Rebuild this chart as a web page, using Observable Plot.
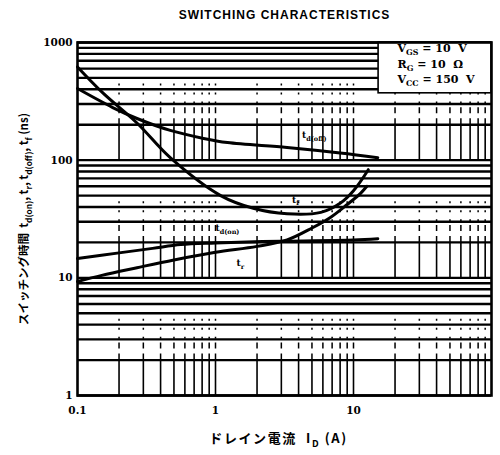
<!DOCTYPE html>
<html><head><meta charset="utf-8">
<script src="https://cdn.jsdelivr.net/npm/d3@7"></script>
<script src="https://cdn.jsdelivr.net/npm/@observablehq/plot@0.6"></script>
<style>
body{margin:0;background:#fff}
svg text{white-space:pre}
</style>
</head><body><div id="chart"></div>
<script>
// ---- data (x: drain current A, y: time ns) ----
const tdOff = [[0.1,406],[0.18,280],[0.27,226],[0.47,179],[0.82,153],[1.22,141],[3.3,128],[8,115],[15,105]];
const tf    = [[0.1,620],[0.154,369],[0.272,205],[0.47,105],[1.09,50],[1.88,39],[3.3,35],[5.8,36],[8,43],[10,55],[12.8,83]];
const tdOn  = [[0.1,14.6],[0.2,16.3],[0.35,17.8],[0.56,19.2],[1,19.8],[3,20.5],[10,21],[15,21.5]];
const tr    = [[0.1,9.3],[0.15,10.5],[0.27,12.2],[0.5,14.2],[1,16.5],[2,18.5],[3.3,21],[5,26.5],[6.8,32.6],[9,42],[11.2,52],[12.5,60]];

const seriesNames  = ["tdOff","tf","tdOn","tr"];
const seriesLabels = ["t_{d(off)}","t_{f}","t_{d(on)}","t_{r}"];

const xTickValues = [0.1, 1, 10];
const xTickLabels = ["0.1", "1", "10"];
const yTickValues = [1, 10, 100, 1000];
const yTickLabels = ["1", "10", "100", "1000"];

const xGridValues = [0.2,0.3,0.4,0.5,0.6,0.7,0.8,0.9,1,2,3,4,5,6,7,8,9,10,20,30,40,50,60,70,80,90];
const yGridValues = [1,2,3,4,5,6,7,8,9,10,20,30,40,50,60,70,80,90,100,200,300,400,500,600,700,800,900,1000];
const vSolidBands = [[1,2],[10,20],[100,200]];
const vDashBands  = [[2,3],[20,30],[200,300]];
const vDotBands   = [[3,5],[30,50],[300,500]];

const legendLines = ["V_{GS} = 10  V", "R_{G} = 10  Ω", "V_{CC} = 150  V"];
const titleText = "SWITCHING CHARACTERISTICS";
const xLabel = "ドレイン電流  I_{D} (A)";
const yLabel = "スイッチング時間  t_{d(on)}, t_{r}, t_{d(off)}, t_{f} (ns)";

// ---- tables built from the arrays ----
const seriesData = {tdOff, tf, tdOn, tr};
const rows = seriesNames.flatMap(s => seriesData[s].map(([x, y]) => ({series: s, x, y})));
const bandRows = bands => xGridValues.flatMap(x => bands.map(([a, b]) => ({x, a, b})));
const pt = (s, x) => { const p = seriesData[s].find(d => d[0] === x); return [{x: p[0], y: p[1]}]; };

const serif = "'DejaVu Serif', serif";
const cjk = "'Noto Sans CJK JP', sans-serif";
const legendText = (i, dy) => Plot.text([legendLines[i]], {frameAnchor: "top-right", dx: -94, dy, textAnchor: "start", lineAnchor: "middle", fontSize: 11, fontWeight: "bold"});

const chart = Plot.plot({
  width: 500, height: 455,
  marginLeft: 77, marginRight: 9, marginTop: 42, marginBottom: 60,
  x: {type: "log", domain: [0.1, 100], axis: null},
  y: {type: "log", domain: [1, 1000], axis: null},
  style: {background: "white", color: "black", fontFamily: serif},
  marks: [
    Plot.ruleY(yGridValues, {y: d => d, stroke: "black", strokeWidth: 2.4}),
    Plot.ruleX(bandRows(vSolidBands), {x: "x", y1: "a", y2: "b", stroke: "black", strokeWidth: 1.6}),
    Plot.ruleX(bandRows(vDashBands), {x: "x", y1: "a", y2: "b", stroke: "black", strokeWidth: 1.5, strokeDasharray: "6,5"}),
    Plot.ruleX(bandRows(vDotBands), {x: "x", y1: "a", y2: "b", stroke: "black", strokeWidth: 1.5, strokeDasharray: "2,7"}),
    // legend box
    Plot.rect([0], {x1: 15.2, x2: 100, y1: 370, y2: 1000, fill: "white", stroke: "black", strokeWidth: 1.6}),
    legendText(0, 6),
    legendText(1, 21.5),
    legendText(2, 37),
    Plot.frame({stroke: "black", strokeWidth: 2.6}),
    // curves
    Plot.line(rows, {x: "x", y: "y", z: "series", stroke: "black", strokeWidth: 3, curve: "catmull-rom"}),
    // curve labels
    Plot.text(pt("tdOff", 3.3), {x: "x", y: "y", text: [seriesLabels[0]], dx: 15, dy: -12, textAnchor: "start", fontSize: 9, fontWeight: "bold"}),
    Plot.text(pt("tf", 3.3), {x: "x", y: "y", text: [seriesLabels[1]], dx: 5, dy: -14, textAnchor: "start", fontSize: 9, fontWeight: "bold"}),
    Plot.text(pt("tdOn", 1), {x: "x", y: "y", text: [seriesLabels[2]], dx: 0, dy: -15, textAnchor: "start", fontSize: 9, fontWeight: "bold"}),
    Plot.text(pt("tr", 1), {x: "x", y: "y", text: [seriesLabels[3]], dx: 21, dy: 11, textAnchor: "start", fontSize: 9, fontWeight: "bold"}),
    // tick labels
    Plot.text(xTickValues, {x: d => d, text: (d, i) => xTickLabels[i], frameAnchor: "bottom", dy: 15, textAnchor: "middle", lineAnchor: "middle", fontSize: 10.5, fontWeight: "bold"}),
    Plot.text(yTickValues, {y: d => d, text: (d, i) => yTickLabels[i], frameAnchor: "left", dx: -5, textAnchor: "end", lineAnchor: "middle", fontSize: 10.5, fontWeight: "bold"}),
    // titles
    Plot.text([titleText], {frameAnchor: "top", dy: -27, textAnchor: "middle", lineAnchor: "middle", fontSize: 12, fontWeight: "bold", fontFamily: "'Liberation Sans', Arial, sans-serif"}),
    Plot.text([xLabel], {frameAnchor: "bottom", dx: -6, dy: 43, textAnchor: "middle", lineAnchor: "middle", fontSize: 13, fontWeight: "bold", fontFamily: cjk}),
    Plot.text([yLabel], {frameAnchor: "left", dx: -53, rotate: -90, textAnchor: "middle", lineAnchor: "middle", fontSize: 11.5, fontWeight: "bold", fontFamily: cjk})
  ]
});
document.getElementById("chart").appendChild(chart);

// letter spacing for title and x label (style only)
for (const t of chart.querySelectorAll("text")) {
  if (t.textContent === titleText) t.setAttribute("letter-spacing", "1");
  if (t.textContent === xLabel) t.setAttribute("letter-spacing", "1.6");
}

// subscripts: "_{...}" -> lowered, smaller tspan
(function addSubscripts(svg) {
  const NS = "http://www.w3.org/2000/svg";
  for (const t of svg.querySelectorAll("text")) {
    const targets = t.querySelector("tspan") ? [...t.querySelectorAll("tspan")] : [t];
    for (const el of targets) {
      const s = el.textContent;
      if (!s.includes("_{")) continue;
      const fs = parseFloat(getComputedStyle(el).fontSize) || 10;
      el.textContent = "";
      let shifted = false;
      for (const p of s.split(/(_\{[^}]*\})/)) {
        if (!p) continue;
        const ts = document.createElementNS(NS, "tspan");
        if (p.startsWith("_{")) {
          ts.textContent = p.slice(2, -1);
          ts.setAttribute("font-size", (fs * 0.72).toFixed(1));
          ts.setAttribute("dy", (fs * 0.3).toFixed(1));
          shifted = true;
        } else {
          ts.textContent = p;
          if (shifted) { ts.setAttribute("dy", (-fs * 0.3).toFixed(1)); shifted = false; }
        }
        el.appendChild(ts);
      }
    }
  }
})(chart);
</script>
</body></html>
